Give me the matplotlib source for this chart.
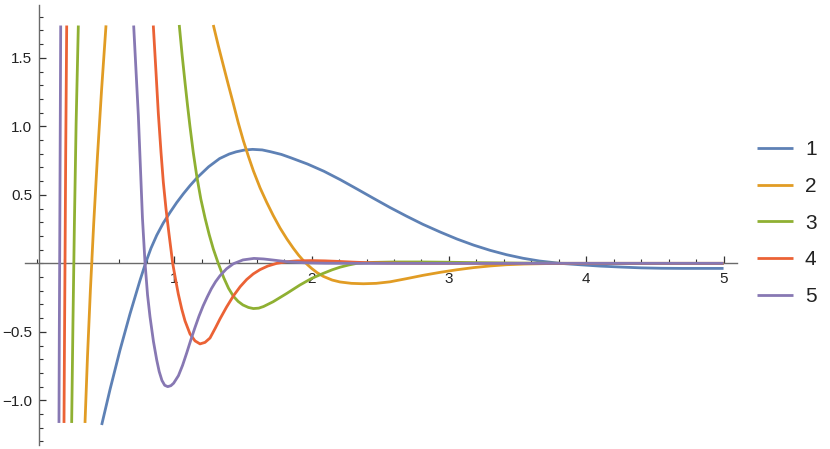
import numpy as np
import matplotlib
matplotlib.use("Agg")
import matplotlib.pyplot as plt
from matplotlib.ticker import MultipleLocator, FixedLocator, FixedFormatter

nan = np.nan

labels = ["1", "2", "3", "4", "5"]
colors = ["#5E81B5", "#E19C24", "#8FB032", "#EB6235", "#8778B3"]

# Curve 1
x1 = [0.471, 0.532, 0.604, 0.677, 0.75, 0.79, 0.83, 0.872, 0.92, 0.969, 1.017, 1.066,
      1.115, 1.165, 1.25, 1.33, 1.40, 1.45, 1.51, 1.57, 1.64, 1.70, 1.78, 1.85, 1.97,
      2.09, 2.21, 2.33, 2.45, 2.57, 2.69, 2.81, 2.94, 3.06, 3.18, 3.30, 3.42, 3.54,
      3.66, 3.81, 3.95, 4.10, 4.25, 4.40, 4.55, 4.70, 4.85, 5.0]
y1 = [-1.18, -0.92, -0.635, -0.37, -0.125, 0.0, 0.11, 0.205, 0.295, 0.372, 0.443, 0.508,
      0.568, 0.624, 0.705, 0.765, 0.798, 0.814, 0.827, 0.832, 0.828, 0.815, 0.795, 0.77,
      0.725, 0.672, 0.61, 0.543, 0.475, 0.408, 0.345, 0.285, 0.227, 0.177, 0.133, 0.095,
      0.063, 0.037, 0.017, 0.0, -0.01, -0.02, -0.027, -0.033, -0.036, -0.037, -0.037, -0.037]

# Curve 2
x2 = [0.3496, 0.3677, 0.3889, 0.413, 0.440, 0.470, 0.5026, nan,
      1.284, 1.32, 1.357, 1.393, 1.43, 1.466, 1.503, 1.54, 1.576, 1.625, 1.673, 1.72,
      1.77, 1.82, 1.867, 1.905, 1.94, 1.97, 2.0, 2.04, 2.085, 2.15, 2.207, 2.29, 2.377,
      2.47, 2.57, 2.69, 2.814, 2.94, 3.057, 3.18, 3.30, 3.42, 3.55, 3.70, 3.9, 4.2, 4.6, 5.0]
y2 = [-1.165, -0.680, -0.194, 0.291, 0.776, 1.262, 1.737, nan,
      1.74, 1.59, 1.445, 1.305, 1.165, 1.025, 0.895, 0.78, 0.675, 0.55, 0.445, 0.35,
      0.258, 0.178, 0.11, 0.06, 0.02, -0.01, -0.037, -0.068, -0.095, -0.122, -0.136, -0.146, -0.149,
      -0.146, -0.135, -0.112, -0.087, -0.065, -0.047, -0.031, -0.019, -0.010, -0.005, -0.002, 0.0, 0.0, 0.0, 0.0]

# Curve 3
x3 = [0.2525, 0.2618, 0.2724, 0.2848, 0.301, nan,
      1.036, 1.057, 1.078, 1.096, 1.114, 1.138, 1.163, 1.193, 1.224, 1.254, 1.284, 1.32,
      1.36, 1.395, 1.43, 1.465, 1.50, 1.54, 1.576, 1.615, 1.65, 1.72, 1.82, 1.915,
      2.0, 2.085, 2.15, 2.207, 2.27, 2.33, 2.45, 2.6, 2.8, 3.0, 3.2, 3.5, 3.9, 4.5, 5.0]
y3 = [-1.165, -0.437, 0.291, 1.02, 1.736, nan,
      1.74, 1.52, 1.32, 1.155, 1.0, 0.81, 0.64, 0.47, 0.33, 0.21, 0.105, 0.0,
      -0.105, -0.182, -0.24, -0.278, -0.304, -0.322, -0.33, -0.327, -0.315, -0.28, -0.219, -0.158,
      -0.11, -0.073, -0.047, -0.028, -0.012, 0.0, 0.007, 0.01, 0.01, 0.008, 0.005, 0.002, 0.0, 0.0, 0.0]

# Curve 4
x4 = [0.1966, 0.200, 0.204, 0.209, 0.2163, nan,
      0.847, 0.8667, 0.8835, 0.9031, 0.9199, 0.9396, 0.9614, 0.9883, 1.0087, 1.0291,
      1.0539, 1.0779, 1.1143, 1.1508, 1.1872, 1.2236, 1.26, 1.30, 1.333, 1.38, 1.43, 1.48,
      1.527, 1.575, 1.624, 1.68, 1.746, 1.82, 1.89, 2.0, 2.1, 2.2, 2.3, 2.4, 2.55, 2.8, 3.5, 5.0]
y4 = [-1.165, -0.6, 0.0, 0.8, 1.736, nan,
      1.736, 1.394, 1.096, 0.811, 0.593, 0.396, 0.214, 0.0, -0.115, -0.224,
      -0.333, -0.420, -0.515, -0.566, -0.588, -0.577, -0.545, -0.47, -0.405, -0.32, -0.238, -0.17,
      -0.118, -0.077, -0.046, -0.02, 0.0, 0.012, 0.018, 0.02, 0.018, 0.014, 0.009, 0.005, 0.002, 0.0, 0.0, 0.0]

# Curve 5
x5 = [0.160, 0.1625, 0.165, 0.168, 0.1726, nan,
      0.704, 0.721, 0.738, 0.754, 0.768, 0.787, 0.805, 0.823, 0.848, 0.872, 0.89, 0.91,
      0.93, 0.952, 0.975, 0.995, 1.03, 1.06, 1.09, 1.12, 1.15, 1.18, 1.21, 1.24, 1.27,
      1.30, 1.333, 1.38, 1.43, 1.50, 1.58, 1.65, 1.72, 1.82, 1.95, 2.1, 2.4, 3.0, 5.0]
y5 = [-1.165, -0.5, 0.0, 0.7, 1.736, nan,
      1.736, 1.408, 1.08, 0.68, 0.33, 0.0, -0.23, -0.39, -0.57, -0.706, -0.79, -0.855,
      -0.89, -0.90, -0.893, -0.875, -0.82, -0.745, -0.655, -0.56, -0.47, -0.385, -0.31, -0.245, -0.185,
      -0.135, -0.09, -0.04, -0.003, 0.025, 0.036, 0.032, 0.024, 0.012, 0.004, 0.001, 0.0, 0.0, 0.0]

xs = [x1, x2, x3, x4, x5]
ys = [y1, y2, y3, y4, y5]

xmajor = [1, 2, 3, 4, 5]
xmajor_labels = ["1", "2", "3", "4", "5"]
ymajor = [-1.0, -0.5, 0.5, 1.0, 1.5]
ymajor_labels = ["\u22121.0", "\u22120.5", "0.5", "1.0", "1.5"]

plt.rcParams['font.family'] = ['Liberation Sans', 'DejaVu Sans']

fig = plt.figure(figsize=(8.30, 4.49), dpi=100)
ax = fig.add_axes([25/830, 1 - 445/449, (737 - 25)/830, (445 - 4.7)/449])

for x, y, c, lab in zip(xs, ys, colors, labels):
    ax.plot(x, y, color=c, lw=2.0, label=lab, solid_capstyle='butt',
            solid_joinstyle='round', zorder=3)

ax.set_xlim(-0.0874, 5.098)
ax.set_ylim(-1.326, 1.888)

axcol = '#6a6a6a'
for s in ['top', 'right']:
    ax.spines[s].set_visible(False)
ax.spines['left'].set_position(('data', 0.016))
ax.spines['bottom'].set_position(('data', 0.0))
ax.spines['left'].set_color(axcol)
ax.spines['bottom'].set_color(axcol)
ax.spines['left'].set_linewidth(1.0)
ax.spines['bottom'].set_linewidth(1.0)

ax.xaxis.set_major_locator(FixedLocator(xmajor))
ax.xaxis.set_major_formatter(FixedFormatter(xmajor_labels))
ax.xaxis.set_minor_locator(MultipleLocator(0.2))
ax.yaxis.set_major_locator(FixedLocator(ymajor))
ax.yaxis.set_major_formatter(FixedFormatter(ymajor_labels))
ax.yaxis.set_minor_locator(MultipleLocator(0.1))

ax.tick_params(axis='both', which='major', direction='in', length=5, width=0.9,
               color='#333333', labelsize=11, labelcolor='#222222')
ax.tick_params(axis='both', which='minor', direction='in', length=3, width=0.8,
               color='#333333')
ax.tick_params(axis='x', which='major', pad=6)
ax.tick_params(axis='y', which='major', pad=5)

leg = fig.legend(loc='center left', bbox_to_anchor=(757/830, 1 - 223/449),
                 frameon=False, fontsize=15, handlelength=1.75, handletextpad=0.55,
                 labelspacing=0.85, borderpad=0, borderaxespad=0)
for t in leg.get_texts():
    t.set_color('#222222')

fig.savefig("out.png", dpi=100)
